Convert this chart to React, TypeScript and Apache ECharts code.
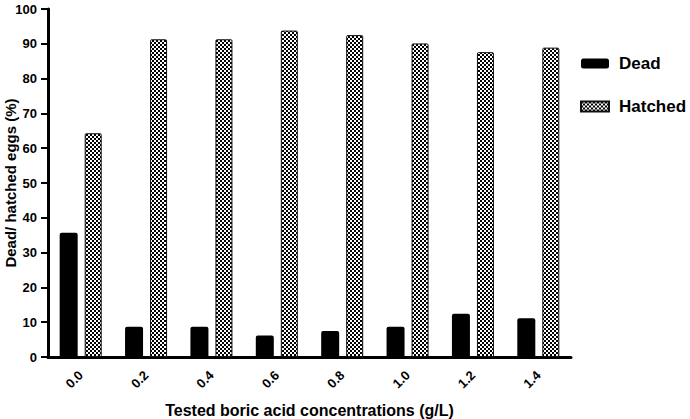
import React, { useEffect, useRef } from "react";
import * as echarts from "echarts";

const categories = ["0.0", "0.2", "0.4", "0.6", "0.8", "1.0", "1.2", "1.4"];
const deadValues = [35.7, 8.7, 8.7, 6.2, 7.5, 8.7, 12.4, 11.1];
const hatchedValues = [64.3, 91.3, 91.3, 93.8, 92.5, 90.1, 87.6, 88.9];
const seriesNames = ["Dead", "Hatched"];
const yAxisTitle = "Dead/ hatched eggs (%)";
const xAxisTitle = "Tested boric acid concentrations (g/L)";

const FONT = "'Liberation Sans', Arial, sans-serif";

function makeChecker(): HTMLCanvasElement {
  const c = document.createElement("canvas");
  c.width = 4;
  c.height = 4;
  const ctx = c.getContext("2d")!;
  ctx.fillStyle = "#ffffff";
  ctx.fillRect(0, 0, 4, 4);
  ctx.fillStyle = "#000000";
  ctx.fillRect(0, 0, 2, 2);
  ctx.fillRect(2, 2, 2, 2);
  return c;
}

export default function App() {
  const ref = useRef<HTMLDivElement>(null);

  useEffect(() => {
    document.body.style.margin = "0";
    if (!ref.current) return;
    const chart = echarts.init(ref.current, undefined, { renderer: "svg" });
    const checker = makeChecker();
    chart.setOption({
      animation: false,
      backgroundColor: "#ffffff",
      grid: {
        left: 48,
        right: 119,
        top: 9,
        bottom: 62,
        containLabel: false,
        outerBoundsMode: "none",
      },
      legend: {
        orient: "vertical",
        left: 575,
        top: 50,
        itemWidth: 28,
        itemHeight: 10,
        itemGap: 26,
        textStyle: {
          fontFamily: FONT,
          fontWeight: "bold",
          fontSize: 17,
          color: "#000",
          padding: [0, 0, 0, 5],
        },
        data: [
          { name: seriesNames[0], icon: "roundRect" },
          { name: seriesNames[1], icon: "rect" },
        ],
      },
      xAxis: {
        type: "category",
        data: categories,
        name: xAxisTitle,
        nameLocation: "middle",
        nameGap: 45,
        nameMoveOverlap: false,
        nameTextStyle: { fontFamily: FONT, fontWeight: "bold", fontSize: 16, color: "#000" },
        axisLine: { lineStyle: { color: "#000", width: 3 } },
        axisTick: { alignWithLabel: true, length: 6, lineStyle: { color: "#000", width: 2 } },
        axisLabel: {
          rotate: 45,
          margin: 16,
          fontFamily: FONT,
          fontWeight: "bold",
          fontSize: 13,
          color: "#000",
        },
        splitLine: { show: false },
      },
      yAxis: {
        type: "value",
        min: 0,
        max: 100,
        interval: 10,
        name: yAxisTitle,
        nameLocation: "middle",
        nameGap: 30,
        nameMoveOverlap: false,
        nameTextStyle: { fontFamily: FONT, fontWeight: "bold", fontSize: 15, color: "#000" },
        axisLine: { show: true, lineStyle: { color: "#000", width: 3 } },
        axisTick: { show: true, length: 7, lineStyle: { color: "#000", width: 2 } },
        axisLabel: { margin: 11, fontFamily: FONT, fontWeight: "bold", fontSize: 13, color: "#000" },
        splitLine: { show: false },
      },
      series: [
        {
          name: seriesNames[0],
          type: "bar",
          data: deadValues,
          barWidth: 18,
          barGap: "39%",
          itemStyle: { color: "#000", borderRadius: [2, 2, 0, 0] },
        },
        {
          name: seriesNames[1],
          type: "bar",
          data: hatchedValues,
          barWidth: 17,
          itemStyle: {
            color: { image: checker, repeat: "repeat" },
            borderColor: "#111",
            borderWidth: 1,
            borderRadius: [1, 1, 0, 0],
          },
        },
      ],
    });
    return () => chart.dispose();
  }, []);

  return <div ref={ref} style={{ width: 690, height: 419 }} />;
}
